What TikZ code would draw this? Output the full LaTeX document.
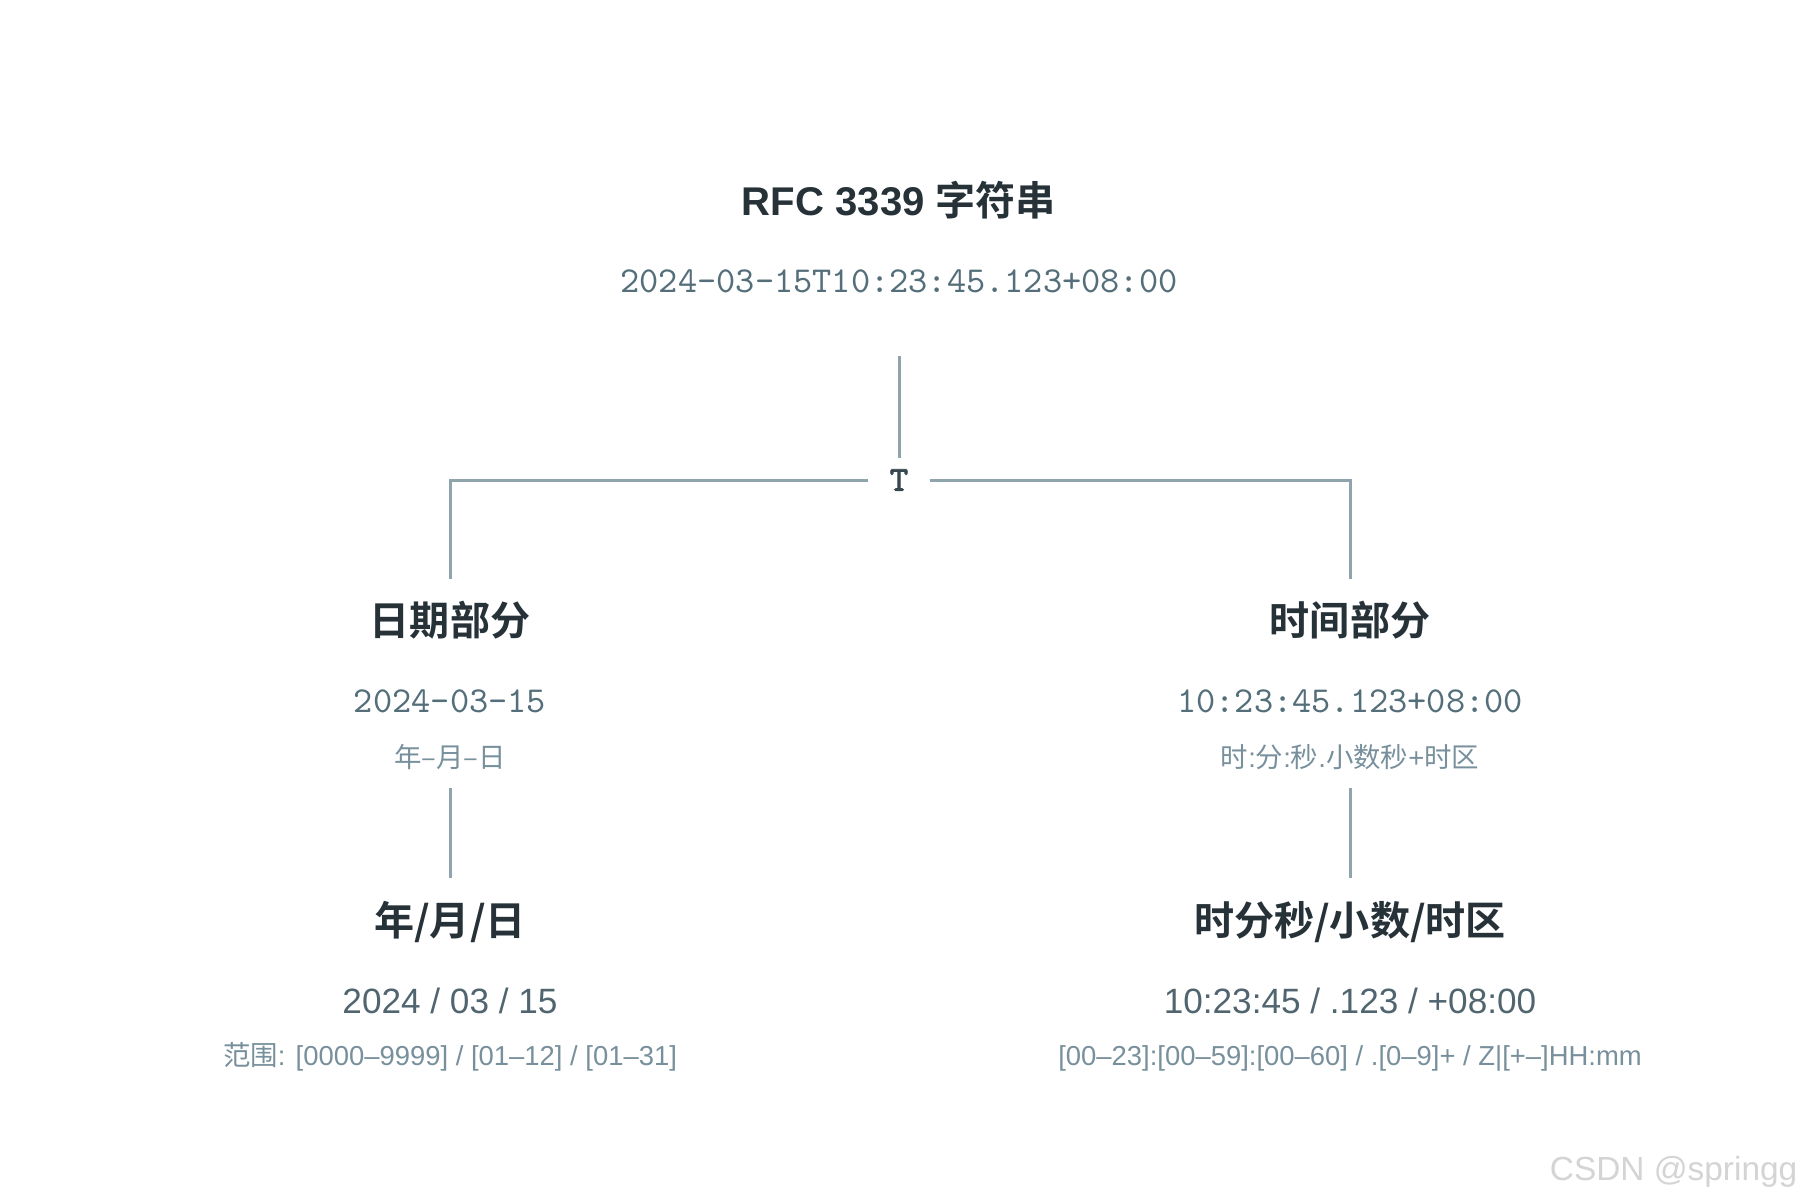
\documentclass[tikz,border=0pt]{standalone}
\usepackage{fontspec}
\setmainfont{Liberation Sans}
\newfontfamily\cjk{Noto Sans CJK SC}[BoldFont={Noto Sans CJK SC Bold}]
\newfontfamily\ttbold{Latin Modern Mono}[FakeBold=2.5]
\definecolor{headc}{HTML}{263238}
\definecolor{monoc}{HTML}{546E7A}
\definecolor{numc}{HTML}{50656F}
\definecolor{smallc}{HTML}{78909C}
\definecolor{linec}{HTML}{90A4AE}
\definecolor{tc}{HTML}{37474F}
\definecolor{wmc}{HTML}{D4D4D4}
\tikzset{
  head/.style={anchor=base, inner sep=0pt, text=headc, font=\fontsize{11.4}{13}\selectfont\bfseries},
  monotxt/.style={anchor=base, inner sep=0pt, text=monoc, font=\fontsize{10.4}{12}\ttfamily},
  numtxt/.style={anchor=base, inner sep=0pt, text=numc, font=\fontsize{10}{12}\selectfont},
  smalltxt/.style={anchor=base, inner sep=0pt, text=smallc, font=\fontsize{7.8}{9}\selectfont},
  conn/.style={draw=linec, line width=0.85pt},
  tlabel/.style={inner sep=0pt, minimum width=0.6cm, minimum height=0.42cm, text=tc, font=\fontsize{10}{11}\ttbold}
}
\begin{document}
\begin{tikzpicture}[x=0.01cm, y=-0.01cm]
\useasboundingbox[fill=white] (0,0) rectangle (1800,1200);

% top
\node[head] (title) at (899,215) {RFC 3339 {\cjk\bfseries 字符串}};
\node[monotxt] (full) at (899,292) {2024-03-15T10:23:45.123+08:00};

% hub
\coordinate (topend) at (899,356);
\node[tlabel] (T) at (899,480) {T};
\coordinate (lcorner) at (450,480);
\coordinate (rcorner) at (1350,480);
\coordinate (ltop) at (450,579);
\coordinate (rtop) at (1350,579);
\draw[conn] (topend) -- (T.north);
\draw[conn] (T.west) -- (lcorner) -- (ltop);
\draw[conn] (T.east) -- (rcorner) -- (rtop);

% left branch
\node[head] (datehead) at (450,635) {\cjk\bfseries 日期部分};
\node[monotxt] (datemono) at (450,712) {2024-03-15};
\node[smalltxt] (datefmt) at (450,767) {\cjk 年–月–日};
\coordinate (lmid1) at (450,788);
\coordinate (lmid2) at (450,878);
\draw[conn] (lmid1) -- (lmid2);
\node[head] (ymd) at (450,935) {\cjk\bfseries 年/月/日};
\node[numtxt] (ymdnum) at (450,1013) {2024 / 03 / 15};
\node[smalltxt] (ymdrange) at (450,1065) {{\cjk 范围}: [0000–9999] / [01–12] / [01–31]};

% right branch
\node[head] (timehead) at (1350,635) {\cjk\bfseries 时间部分};
\node[monotxt] (timemono) at (1350,712) {10:23:45.123+08:00};
\node[smalltxt] (timefmt) at (1350,767) {{\cjk 时}:{\cjk 分}:{\cjk 秒}.{\cjk 小数秒}+{\cjk 时区}};
\coordinate (rmid1) at (1350,788);
\coordinate (rmid2) at (1350,878);
\draw[conn] (rmid1) -- (rmid2);
\node[head] (hms) at (1350,935) {\cjk\bfseries 时分秒/小数/时区};
\node[numtxt] (hmsnum) at (1350,1013) {10:23:45 / .123 / +08:00};
\node[smalltxt] (hmsrange) at (1350,1065) {[00–23]:[00–59]:[00–60] / .[0–9]+ / Z|[+–]HH:mm};

% watermark
\node[anchor=base east, inner sep=0pt, text=wmc, font=\fontsize{9.5}{11}\selectfont] (wm) at (1798,1180) {CSDN @springg};
\end{tikzpicture}
\end{document}
